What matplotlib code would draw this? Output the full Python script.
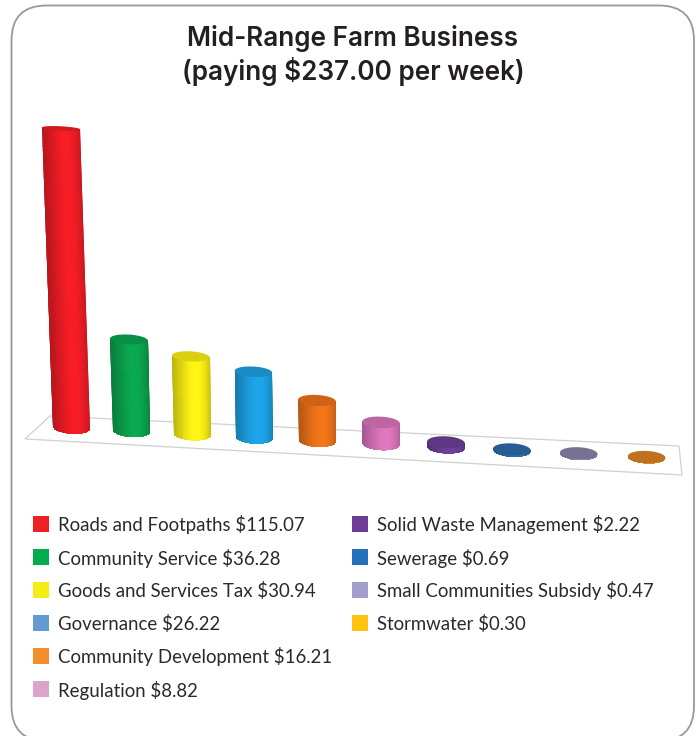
import numpy as np
import matplotlib
matplotlib.use("Agg")
import matplotlib.pyplot as plt
from matplotlib.colors import to_rgb
from matplotlib.patches import FancyBboxPatch, Polygon, Rectangle
from matplotlib.path import Path
from matplotlib.transforms import Transform

# Rates breakdown, dollars per week
categories = ["Roads and Footpaths", "Community Service", "Goods and Services Tax",
              "Governance", "Community Development", "Regulation",
              "Solid Waste Management", "Sewerage", "Small Communities Subsidy", "Stormwater"]
amounts = [115.07, 36.28, 30.94, 26.22, 16.21, 8.82, 2.22, 0.69, 0.47, 0.30]
amount_labels = ["$115.07", "$36.28", "$30.94", "$26.22", "$16.21", "$8.82",
                 "$2.22", "$0.69", "$0.47", "$0.30"]
bar_colors = ["#ee1c25", "#0aa34d", "#f7ec13", "#1c9fe0", "#ea7118", "#d873ba",
              "#6b3f97", "#2e6aa8", "#8a80a8", "#d9821f"]
key_colors = ["#ed2024", "#00ad4e", "#f6eb14", "#6499d1", "#f28e2b", "#dca3cb",
              "#6f3c98", "#2272bb", "#a29ecc", "#ffc20e"]
title_lines = ["Mid-Range Farm Business", "(paying $237.00 per week)"]
LEFT_COLUMN_ROWS = 6

W, H = 699, 736
INK = "#2b2a2b"


class PerspectiveFloor(Transform):
    """Maps (category index, dollars) onto the tilted floor of the chart, in canvas pixels."""
    input_dims = 2
    output_dims = 2

    def transform_non_affine(self, values):
        values = np.asarray(values, dtype=float)
        i, v = values[:, 0], values[:, 1]
        x = 71.5 + 59.4 * i + 0.5 * i ** 2 + (-0.09 + 0.02 * i) * v
        y = 428 + 3.3 * i - 2.5 * v - 0.0009 * v ** 2
        return np.column_stack([x, y])


fig = plt.figure(figsize=(W / 100, H / 100), dpi=100, facecolor="white")
ax = fig.add_axes([0, 0, 1, 1])
ax.set_xlim(0, W)
ax.set_ylim(H, 0)
ax.axis("off")

ax.add_patch(FancyBboxPatch((11.5, 5.5), 682.5, 735.5,
                            boxstyle="round,pad=0,rounding_size=35",
                            fc="white", ec="#98989c", lw=1.3, zorder=1))

for k, line in enumerate(title_lines):
    ax.text(353, 38.5 + 33 * k, line, ha="center", va="center", fontsize=18.8,
            fontweight="semibold", family="Inter", color="#231f20", zorder=5)

ax.add_patch(Polygon([(50, 416), (679, 446), (682, 475), (25, 439)], closed=True,
                     fc="white", ec="#d0d0d0", lw=0.9, zorder=2))

chart = PerspectiveFloor() + ax.transData


def cylinder(i, value, color, zorder):
    rgb = np.array(to_rgb(color))
    half = 0.31 - 0.004 * i
    px_to_dollars = 1 / 2.5
    ry_base = 6 * px_to_dollars
    ry_top = max(1.8, 6 - 0.035 * value) * px_to_dollars

    theta = np.linspace(np.pi, 0, 61)
    bottom_arc = np.column_stack([i + half * np.cos(theta), -ry_base * np.sin(theta)])
    # the body stops at the cap's centre line, so the cap sits over it without a seam
    top_edge = np.array([[i + half, value], [i - half, value]])
    outline = np.vstack([bottom_arc, top_edge])

    # shaded body: a mesh a touch wider than the cylinder, trimmed by its outline
    xs = i + 1.06 * half * np.cos(theta)
    mesh_x = np.vstack([xs, xs])
    mesh_y = np.vstack([-1.2 * ry_base * np.sin(theta) - 0.5,
                        np.full_like(theta, value + 0.5)])
    pos = np.linspace(0, 1, len(theta) - 1)
    # highlight sits a little right of centre, edges fall away darker
    light = 0.74 + 0.30 * np.exp(-((pos - 0.58) / 0.30) ** 2)
    cell_rgb = np.clip(rgb[None, :] * light[:, None], 0, 1)[None, :, :]
    body = ax.pcolormesh(mesh_x, mesh_y, cell_rgb, shading="flat", transform=chart,
                         zorder=zorder)
    body.set_clip_path(Path(outline), chart)

    t = np.linspace(0, 2 * np.pi, 90)
    cap = np.column_stack([i + half * np.cos(t), value + ry_top * np.sin(t)])
    ax.add_patch(Polygon(cap, closed=True, fc=rgb * 0.88, ec="none",
                         transform=chart, zorder=zorder + 0.5))


for idx, (val, col) in enumerate(zip(amounts, bar_colors)):
    cylinder(idx, val, col, 3 + idx * 0.01)

# Colour key, two columns
for n, (name, label, col) in enumerate(zip(categories, amount_labels, key_colors)):
    column = 0 if n < LEFT_COLUMN_ROWS else 1
    row = n if n < LEFT_COLUMN_ROWS else n - LEFT_COLUMN_ROWS
    x0 = 33 if column == 0 else 352
    yc = 524 + 33 * row
    ax.add_patch(Rectangle((x0, yc - 8), 16, 16, fc=col, ec="none", zorder=5))
    ax.text(x0 + 25, yc + 1, f"{name} {label}", ha="left", va="center", fontsize=13.4,
            family="Lato", color=INK, zorder=5)

fig.savefig("out.png", dpi=100, facecolor="white")
